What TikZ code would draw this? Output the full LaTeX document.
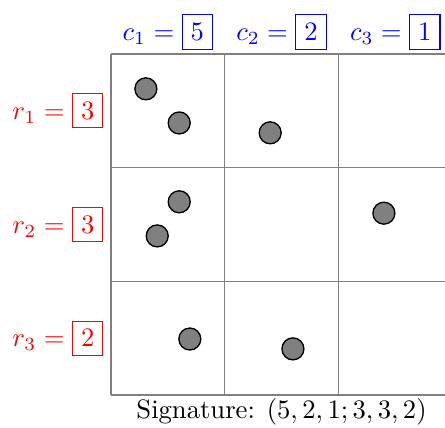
\documentclass[tikz,border=0pt]{standalone}
\begin{document}
\begin{tikzpicture}[
  dot/.style={circle,draw=black,fill=gray,line width=0.5pt,minimum size=0.29cm,inner sep=0pt},
  collab/.style={text=blue,inner sep=0pt},
  rowlab/.style={text=red,inner sep=0pt},
  gridline/.style={draw=gray,line width=0.5pt}
]
\useasboundingbox (-1.464,-0.423) rectangle (4.406,5.212);
\draw[gridline] (0,0) grid[step=1.5] (4.5,4.5);
\node[collab] (c1) at (0.75,4.79) {$c_1 = \fcolorbox{blue}{white}{$5$}$};
\node[collab] (c2) at (2.25,4.79) {$c_2 = \fcolorbox{blue}{white}{$2$}$};
\node[collab] (c3) at (3.75,4.79) {$c_3 = \fcolorbox{blue}{white}{$1$}$};
\node[rowlab] (r1) at (-0.70,3.75) {$r_1 = \fcolorbox{red}{white}{$3$}$};
\node[rowlab] (r2) at (-0.70,2.25) {$r_2 = \fcolorbox{red}{white}{$3$}$};
\node[rowlab] (r3) at (-0.70,0.75) {$r_3 = \fcolorbox{red}{white}{$2$}$};
\node[inner sep=0pt] (sig) at (2.25,-0.22) {Signature: $(5,2,1;3,3,2)$};
\node[dot] (d1) at (0.46,4.04) {};
\node[dot] (d2) at (0.90,3.59) {};
\node[dot] (d3) at (2.10,3.46) {};
\node[dot] (d4) at (0.90,2.55) {};
\node[dot] (d5) at (0.61,2.10) {};
\node[dot] (d6) at (3.60,2.40) {};
\node[dot] (d7) at (1.04,0.74) {};
\node[dot] (d8) at (2.40,0.61) {};
\end{tikzpicture}
\end{document}
